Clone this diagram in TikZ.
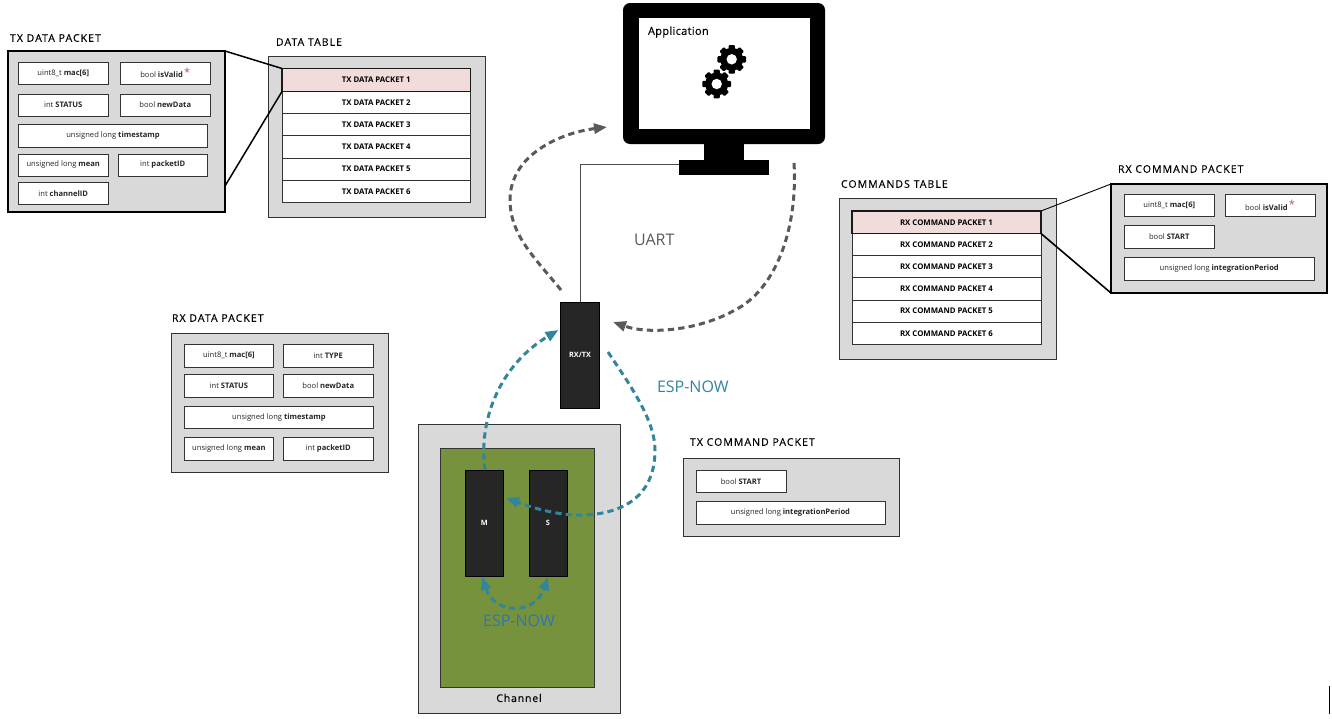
\documentclass[tikz,border=0pt]{standalone}
\usepackage{fontspec}
\setmainfont{Open Sans}
\usetikzlibrary{arrows.meta}
\definecolor{panelgray}{HTML}{D9D9D9}
\definecolor{rowpink}{HTML}{F2DCDB}
\definecolor{chip}{HTML}{262626}
\definecolor{board}{HTML}{76923C}
\definecolor{flowgray}{HTML}{595959}
\definecolor{flowteal}{HTML}{31859C}
\definecolor{nowblue}{HTML}{2E75B6}
\definecolor{star}{HTML}{C0504D}
\tikzset{
  every node/.style={inner sep=0pt,outer sep=0pt},
  panel/.style={draw=black!80,line width=0.9pt,fill=panelgray},
  thickpanel/.style={draw=black,line width=2pt,fill=panelgray},
  cell/.style={draw=black!80,line width=1pt,fill=white,font=\fontsize{7.6}{9}\selectfont,text=black!85},
  rowcell/.style={draw=black!80,line width=1pt,fill=white,font=\fontsize{7.8}{9}\selectfont\bfseries,text=black},
  hotrow/.style={rowcell,draw=black!90,line width=1.8pt,fill=rowpink},
  chipbox/.style={draw=black,line width=0.8pt,fill=chip,text=white,font=\fontsize{7.3}{9}\selectfont\bfseries},
  title/.style={anchor=west,font=\fontsize{10.5}{12}\selectfont\addfontfeature{LetterSpace=10,FakeBold=0.25},text=black},
  flow/.style={line width=3pt,dash pattern=on 6.3pt off 4.2pt,-{Triangle[length=13pt,width=10pt]}},
  flowboth/.style={line width=3pt,dash pattern=on 6.3pt off 4.2pt,{Triangle[length=13pt,width=10pt]}-{Triangle[length=13pt,width=10pt]}},
}
\newcommand{\bx}[6][cell]{\node[#1,minimum width={(#5-#3)*1pt},minimum height={(#6-#4)*1pt}] (#2) at ({(#3+#5)/2},{(#4+#6)/2}) {\strut};}
\newcommand{\bxt}[7][cell]{\node[#1,minimum width={(#5-#3)*1pt},minimum height={(#6-#4)*1pt}] (#2) at ({(#3+#5)/2},{(#4+#6)/2}) {#7};}
\newcommand{\starmark}{\,\raisebox{1.5pt}{\textcolor{star}{\fontsize{11}{11}\selectfont *}}}
\newcommand{\gearat}[2]{%
  \fill[black] (#1,#2) circle (11.5);
  \foreach \a in {0,45,...,315}{\fill[black,rounded corners=1pt,rotate around={\a:(#1,#2)}] (#1-3.2,#2) rectangle (#1+3.2,#2-14.3);}
  \fill[white] (#1,#2) circle (5.2);}
\begin{document}
\begin{tikzpicture}[x=1pt,y=-1pt]
\useasboundingbox (0,0) rectangle (1332,718);
% TX data packet
\node[title] (ttx) at (10,38) {TX DATA PACKET};
\bx[thickpanel]{txp}{8}{51}{225}{212}
\bxt{a1}{18.5}{62}{108}{84}{uint8\_t \textbf{mac[6]}}
\bxt{a2}{120.5}{62}{210}{84}{bool \textbf{isValid}\starmark}
\bxt{a3}{18.5}{94}{108}{116}{int \textbf{STATUS}}
\bxt{a4}{120.5}{94}{210}{116}{bool \textbf{newData}}
\bxt{a5}{18.5}{124.5}{207.5}{147}{unsigned long \textbf{timestamp}}
\bxt{a6}{18.5}{154}{108}{176}{unsigned long \textbf{mean}}
\bxt{a7}{118}{154}{207.5}{176}{int \textbf{packetID}}
\bxt{a8}{18.5}{182}{108}{204.5}{int \textbf{channelID}}
% Data table
\node[title] (tdt) at (276,42) {DATA TABLE};
\bx[panel]{dtp}{268.7}{56}{485}{217}
\bxt[rowcell]{d2}{282}{91.5}{470.5}{113.5}{TX DATA PACKET 2}
\bxt[rowcell]{d3}{282}{113.5}{470.5}{135.5}{TX DATA PACKET 3}
\bxt[rowcell]{d4}{282}{135.5}{470.5}{158}{TX DATA PACKET 4}
\bxt[rowcell]{d5}{282}{158}{470.5}{180}{TX DATA PACKET 5}
\bxt[rowcell]{d6}{282}{180}{470.5}{202.5}{TX DATA PACKET 6}
\bxt[hotrow]{d1}{282}{68.5}{470.5}{91.5}{TX DATA PACKET 1}
\draw[line width=1.5pt] (txp.north east) -- (d1.north west);
\coordinate (txlow) at (225,186);
\draw[line width=1.5pt] (txlow) -- (d1.south west);
% Monitor
\node[fill=black,rounded corners=7pt,minimum width=202pt,minimum height=141pt] (mon) at (724,73.5) {};
\bx[fill=black]{neck}{704}{143}{744}{161}
\bx[fill=black]{base}{679}{160}{769}{174.5}
\bx[fill=white]{scr}{638.5}{18}{810}{129}
\node[anchor=west,font=\fontsize{11}{13}\selectfont\addfontfeature{LetterSpace=3,FakeBold=0.2}] (app) at (648,32) {Application};
\gearat{731.7}{59.3}
\gearat{716.7}{84}
% RX/TX
\bxt[chipbox]{rx}{560.5}{302}{599.5}{408}{RX/TX}
\coordinate (uj) at (679,164.5);
\draw[draw=black!70,line width=1pt] (rx.north) |- (uj);
\node[anchor=west,font=\fontsize{16}{18}\selectfont,text=flowgray] (uart) at (634,240) {UART};
\node[anchor=west,font=\fontsize{16}{18}\selectfont,text=flowteal] (now1) at (657,387) {ESP-NOW};
% Channel
\bx[panel]{chp}{418.5}{424.5}{620.5}{713}
\bx[draw=black!80,line width=1pt,fill=board]{brd}{440}{448.5}{594.5}{687}
\bxt[chipbox]{m}{465}{470}{503.5}{576}{M}
\bxt[chipbox]{s}{529}{470}{567}{576}{S}
\node[font=\fontsize{10.5}{12}\selectfont\addfontfeature{LetterSpace=8,FakeBold=0.2}] (chl) at (519,698) {Channel};
\node[font=\fontsize{16}{18}\selectfont,text=nowblue] (now2) at (519,621) {ESP-NOW};
% RX data packet
\node[title] (trd) at (172,318) {RX DATA PACKET};
\bx[panel]{rdp}{171}{333}{388}{472}
\bxt{b1}{184.3}{344.5}{273.5}{367}{uint8\_t \textbf{mac[6]}}
\bxt{b2}{283.5}{344.5}{373}{367}{int \textbf{TYPE}}
\bxt{b3}{184.3}{374.5}{273.5}{397}{int \textbf{STATUS}}
\bxt{b4}{283.5}{374.5}{373}{397}{bool \textbf{newData}}
\bxt{b5}{184.3}{406}{373.5}{428.5}{unsigned long \textbf{timestamp}}
\bxt{b6}{184.3}{437.5}{273.5}{460}{unsigned long \textbf{mean}}
\bxt{b7}{283.5}{437.5}{373}{460}{int \textbf{packetID}}
% TX command packet
\node[title] (ttc) at (690,442) {TX COMMAND PACKET};
\bx[panel]{tcp}{683}{458}{899}{536}
\bxt{c1}{696}{470}{786}{492.5}{bool \textbf{START}}
\bxt{c2}{696}{501.5}{885}{524}{unsigned long \textbf{integrationPeriod}}
% Commands table
\node[title] (tct) at (841,184) {COMMANDS TABLE};
\bx[panel]{ctp}{839}{198}{1056}{359}
\bxt[rowcell]{e2}{852}{233.5}{1041}{255.5}{RX COMMAND PACKET 2}
\bxt[rowcell]{e3}{852}{255.5}{1041}{277.5}{RX COMMAND PACKET 3}
\bxt[rowcell]{e4}{852}{277.5}{1041}{300}{RX COMMAND PACKET 4}
\bxt[rowcell]{e5}{852}{300}{1041}{322}{RX COMMAND PACKET 5}
\bxt[rowcell]{e6}{852}{322}{1041}{344.5}{RX COMMAND PACKET 6}
\bxt[hotrow]{e1}{852}{211}{1041}{233.5}{RX COMMAND PACKET 1}
% RX command packet
\node[title] (trc) at (1118,169) {RX COMMAND PACKET};
\bx[thickpanel]{rcp}{1111}{184}{1327}{293}
\bxt{f1}{1124.5}{194}{1214}{216.5}{uint8\_t \textbf{mac[6]}}
\bxt{f2}{1225}{194}{1315}{216.5}{bool \textbf{isValid}\starmark}
\bxt{f3}{1124.5}{225.5}{1214}{248}{bool \textbf{START}}
\bxt{f4}{1124.5}{257.5}{1314}{280}{unsigned long \textbf{integrationPeriod}}
\draw[line width=0.9pt] (e1.north east) -- (rcp.north west);
\draw[line width=1.6pt] (e1.south east) -- (rcp.south west);
% Flow arrows
\coordinate (p1) at (561,290); \coordinate (p2) at (607,127);
\coordinate (q1) at (794,163); \coordinate (q2) at (613,322);
\coordinate (r1) at (485,470); \coordinate (r2) at (558.5,330);
\coordinate (t1) at (608,352); \coordinate (t2) at (506,498);
\coordinate (u1) at (482,577); \coordinate (u2) at (548,577);
\draw[flow,flowgray] (p1) .. controls (535,258) and (510,235) .. (510,200) .. controls (510,155) and (560,133) .. (p2);
\draw[flow,flowgray] (q1) .. controls (798,230) and (775,290) .. (735,310) .. controls (700,330) and (650,335) .. (q2);
\draw[flow,flowteal] (r1) .. controls (478,420) and (500,365) .. (r2);
\draw[flow,flowteal] (t1) .. controls (630,385) and (655,420) .. (655,450) .. controls (655,505) and (610,516) .. (575,515) .. controls (550,514) and (525,505) .. (t2);
\draw[flowboth,flowteal] (u1) .. controls (495,615) and (535,615) .. (u2);
% Corner mark
\coordinate (v1) at (1329.5,686); \coordinate (v2) at (1329.5,714);
\draw[line width=1pt] (v1) -- (v2);
\end{tikzpicture}
\end{document}
